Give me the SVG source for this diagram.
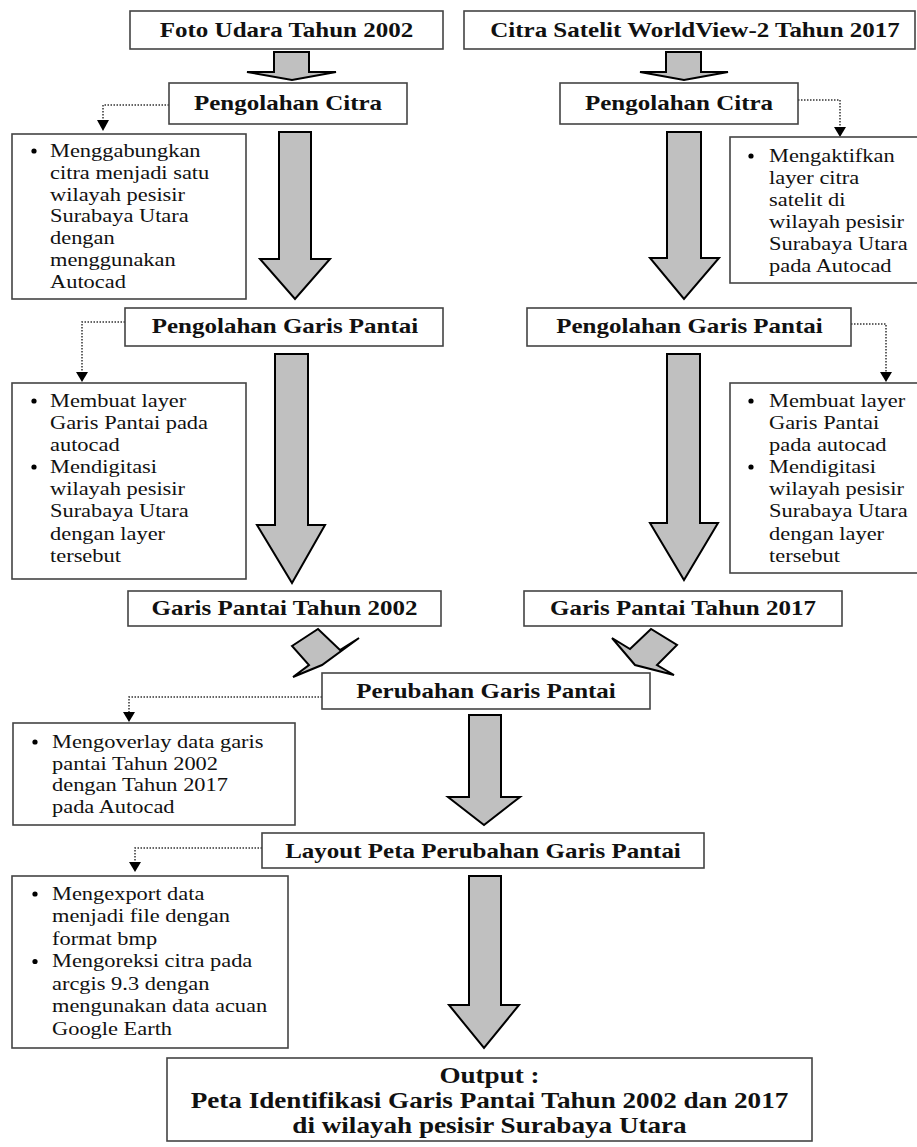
<svg xmlns="http://www.w3.org/2000/svg" width="917" height="1147" viewBox="0 0 917 1147">
<defs>
<style>
.box{fill:#fff;stroke:#444;stroke-width:1.6}
.blk{fill:#c0c0c0;stroke:#000;stroke-width:2;stroke-linejoin:miter}
.dot{fill:none;stroke:#333;stroke-width:1.5;stroke-dasharray:1.5 1.5}
.ah{fill:#000}
.t{font-family:"Liberation Serif","Times New Roman",serif;font-weight:bold;font-size:21px;fill:#111;text-anchor:middle}
.o{font-family:"Liberation Serif","Times New Roman",serif;font-weight:bold;font-size:23px;fill:#111;text-anchor:middle}
.r{font-family:"Liberation Serif","Times New Roman",serif;font-size:19px;fill:#111}
.bul{fill:#000}
</style>
</defs>
<rect width="917" height="1147" fill="#fff"/>

<g id="connectors">
<polygon class="blk" points="274,52 309,52 309,72 336,72 292,80 247,72 274,72"/>
<polygon class="blk" points="666,52 701,52 701,72 728,72 684,80 640,72 666,72"/>
<polygon class="blk" points="279,132 311,132 311,259 330,259 295,299 260,259 279,259"/>
<polygon class="blk" points="667,132 701,132 701,258 719,258 684,299 650,258 667,258"/>
<polygon class="blk" points="275,354 308,354 308,525 325,525 292,583 257,525 275,525"/>
<polygon class="blk" points="667,354 700,354 700,523 718,523 684,580 650,523 667,523"/>
<polygon class="blk" points="292,646 318,629 340,650 359,638 322,665 293,677 309,665"/>
<polygon class="blk" points="612,638 630,649 651,629 677,645 657,665 674,675 635,665"/>
<polygon class="blk" points="469,715 501,715 501,797 520,797 484,825 448,797 469,797"/>
<polygon class="blk" points="469,876 501,876 501,1005 519,1005 484,1048 449,1005 469,1005"/>

<polyline class="dot" points="169,105 103,105 103,122"/>
<polygon class="ah" points="97,120 109,120 103,131"/>
<polyline class="dot" points="798,100 840,100 840,128"/>
<polygon class="ah" points="834,127 846,127 840,137"/>
<polyline class="dot" points="125,322 82,322 82,373"/>
<polygon class="ah" points="76,372 88,372 82,382"/>
<polyline class="dot" points="851,324 886,324 886,373"/>
<polygon class="ah" points="880,372 892,372 886,382"/>
<polyline class="dot" points="322,697 129,697 129,713"/>
<polygon class="ah" points="123,712 135,712 129,722"/>
<polyline class="dot" points="262,848 135,848 135,863"/>
<polygon class="ah" points="129,862 141,862 135,872"/>
</g>

<g id="foto-udara">
<rect class="box" x="130" y="11" width="313" height="38"/>
<text class="t" transform="translate(286.5,37) scale(1.19,1)">Foto Udara Tahun 2002</text>
</g>
<g id="citra-satelit">
<rect class="box" x="464" y="11" width="451" height="38"/>
<text class="t" transform="translate(695,37) scale(1.19,1)">Citra Satelit WorldView-2 Tahun 2017</text>
</g>
<g id="pengolahan-citra-1">
<rect class="box" x="169" y="83" width="238" height="41"/>
<text class="t" transform="translate(288,110) scale(1.19,1)">Pengolahan Citra</text>
</g>
<g id="pengolahan-citra-2">
<rect class="box" x="560" y="83" width="238" height="41"/>
<text class="t" transform="translate(679,110) scale(1.19,1)">Pengolahan Citra</text>
</g>
<g id="ket-citra-1">
<rect class="box" x="12" y="134" width="234" height="165"/>
<circle class="bul" cx="34" cy="151" r="2.6"/>
<text class="r" transform="translate(50,157) scale(1.18,1)"><tspan x="0" y="0">Menggabungkan</tspan><tspan x="0" y="21.8">citra menjadi satu</tspan><tspan x="0" y="43.6">wilayah pesisir</tspan><tspan x="0" y="65.4">Surabaya Utara</tspan><tspan x="0" y="87.2">dengan</tspan><tspan x="0" y="109">menggunakan</tspan><tspan x="0" y="130.8">Autocad</tspan></text>
</g>
<g id="ket-citra-2">
<rect class="box" x="730" y="137" width="190" height="146"/>
<circle class="bul" cx="751" cy="156" r="2.6"/>
<text class="r" transform="translate(769,162) scale(1.18,1)"><tspan x="0" y="0">Mengaktifkan</tspan><tspan x="0" y="22">layer citra</tspan><tspan x="0" y="44">satelit di</tspan><tspan x="0" y="66">wilayah pesisir</tspan><tspan x="0" y="88">Surabaya Utara</tspan><tspan x="0" y="110">pada Autocad</tspan></text>
</g>
<g id="pengolahan-garis-1">
<rect class="box" x="125" y="308" width="318" height="38"/>
<text class="t" transform="translate(285,333) scale(1.19,1)">Pengolahan Garis Pantai</text>
</g>
<g id="pengolahan-garis-2">
<rect class="box" x="527" y="308" width="324" height="38"/>
<text class="t" transform="translate(689.5,333) scale(1.19,1)">Pengolahan Garis Pantai</text>
</g>
<g id="ket-garis-1">
<rect class="box" x="12" y="383" width="234" height="196"/>
<circle class="bul" cx="34" cy="401" r="2.6"/>
<circle class="bul" cx="34" cy="467" r="2.6"/>
<text class="r" transform="translate(50,407) scale(1.18,1)"><tspan x="0" y="0">Membuat layer</tspan><tspan x="0" y="22.1">Garis Pantai pada</tspan><tspan x="0" y="44.2">autocad</tspan><tspan x="0" y="66.3">Mendigitasi</tspan><tspan x="0" y="88.4">wilayah pesisir</tspan><tspan x="0" y="110.5">Surabaya Utara</tspan><tspan x="0" y="132.6">dengan layer</tspan><tspan x="0" y="154.7">tersebut</tspan></text>
</g>
<g id="ket-garis-2">
<rect class="box" x="730" y="383" width="190" height="190"/>
<circle class="bul" cx="751" cy="401" r="2.6"/>
<circle class="bul" cx="751" cy="467" r="2.6"/>
<text class="r" transform="translate(769,407) scale(1.18,1)"><tspan x="0" y="0">Membuat layer</tspan><tspan x="0" y="22.1">Garis Pantai</tspan><tspan x="0" y="44.2">pada autocad</tspan><tspan x="0" y="66.3">Mendigitasi</tspan><tspan x="0" y="88.4">wilayah pesisir</tspan><tspan x="0" y="110.5">Surabaya Utara</tspan><tspan x="0" y="132.6">dengan layer</tspan><tspan x="0" y="154.7">tersebut</tspan></text>
</g>
<g id="garis-2002">
<rect class="box" x="128" y="591" width="313" height="35"/>
<text class="t" transform="translate(284.5,615) scale(1.19,1)">Garis Pantai Tahun 2002</text>
</g>
<g id="garis-2017">
<rect class="box" x="524" y="591" width="318" height="35"/>
<text class="t" transform="translate(683,615) scale(1.19,1)">Garis Pantai Tahun 2017</text>
</g>
<g id="perubahan">
<rect class="box" x="322" y="673" width="328" height="36"/>
<text class="t" transform="translate(486,698) scale(1.19,1)">Perubahan Garis Pantai</text>
</g>
<g id="ket-perubahan">
<rect class="box" x="13" y="723" width="282" height="102"/>
<circle class="bul" cx="35" cy="742" r="2.6"/>
<text class="r" transform="translate(52,748) scale(1.18,1)"><tspan x="0" y="0">Mengoverlay data garis</tspan><tspan x="0" y="21.7">pantai Tahun 2002</tspan><tspan x="0" y="43.4">dengan Tahun 2017</tspan><tspan x="0" y="65.1">pada Autocad</tspan></text>
</g>
<g id="layout">
<rect class="box" x="262" y="833" width="442" height="35"/>
<text class="t" transform="translate(483,858) scale(1.19,1)">Layout Peta Perubahan Garis Pantai</text>
</g>
<g id="ket-layout">
<rect class="box" x="12" y="876" width="276" height="172"/>
<circle class="bul" cx="35" cy="894" r="2.6"/>
<circle class="bul" cx="35" cy="961.5" r="2.6"/>
<text class="r" transform="translate(52,900) scale(1.18,1)"><tspan x="0" y="0">Mengexport data</tspan><tspan x="0" y="22.5">menjadi file dengan</tspan><tspan x="0" y="45">format bmp</tspan><tspan x="0" y="67.5">Mengoreksi citra pada</tspan><tspan x="0" y="90">arcgis 9.3 dengan</tspan><tspan x="0" y="112.5">mengunakan data acuan</tspan><tspan x="0" y="135">Google Earth</tspan></text>
</g>
<g id="output">
<rect class="box" x="167" y="1058" width="645" height="83"/>
<text class="o" transform="translate(489.5,0) scale(1.18,1)"><tspan x="0" y="1083">Output :</tspan><tspan x="0" y="1108">Peta Identifikasi Garis Pantai Tahun 2002 dan 2017</tspan><tspan x="0" y="1133">di wilayah pesisir Surabaya Utara</tspan></text>
</g>
</svg>
